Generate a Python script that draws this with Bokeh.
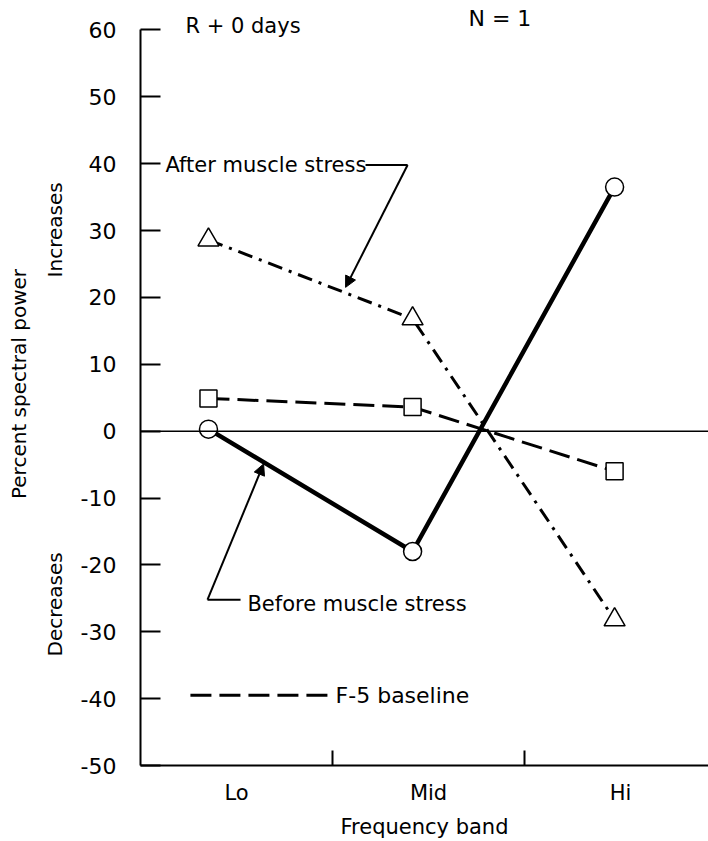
import math
from bokeh.plotting import figure
from bokeh.models import FixedTicker, Label, Arrow, NormalHead, Span, Range1d, LinearAxis
from bokeh.embed import file_html
from bokeh.resources import INLINE

# ---- data ----
bands = ["Lo", "Mid", "Hi"]
band_label_x = [0.5, 1.5, 2.5]
band_edges = [1, 2]
point_x = [0.354, 1.417, 2.469]
before_stress = [0.3, -18.0, 36.5]
after_stress = [28.6, 16.8, -28.2]
f5_baseline = [4.9, 3.6, -6.0]
y_ticks = [-50, -40, -30, -20, -10, 0, 10, 20, 30, 40, 50, 60]
y_tick_labels = [str(t) for t in y_ticks]
side_label_y = [-25.9, 30.1]
side_labels = ["Decreases", "Increases"]

# annotation anchors (data units)
after_leader_x = [1.172, 1.391]
after_leader_y = [39.8, 39.8]
after_arrow_end = (1.068, 21.5)
before_leader_x = [0.521, 0.349]
before_leader_y = [-25.2, -25.2]
before_arrow_end = (0.641, -4.9)
legend_line_x = [0.26, 0.975]
legend_line_y = [-39.5, -39.5]

FONT = "DejaVu Sans"
FS = "21px"

p = figure(width=708, height=841, output_backend="svg", toolbar_location=None,
           x_range=Range1d(0, 2.958), y_range=Range1d(-50, 64.1),
           min_border_left=140, min_border_right=0, min_border_top=2,
           min_border_bottom=73)
p.outline_line_color = None
p.grid.visible = False

# x axis
xa = p.xaxis[0]
xa.ticker = FixedTicker(ticks=band_label_x, minor_ticks=band_edges)
xa.major_label_overrides = {x: b for x, b in zip(band_label_x, bands)}
xa.major_tick_in = 0
xa.major_tick_out = 0
xa.minor_tick_in = 15
xa.minor_tick_out = 0
xa.minor_tick_line_width = 2
xa.minor_tick_line_color = "black"
xa.axis_line_width = 2
xa.axis_line_color = "black"
xa.major_label_standoff = 15
xa.major_label_text_font = FONT
xa.major_label_text_font_size = FS
xa.major_label_text_color = "black"
xa.axis_label = "Frequency band"
xa.axis_label_text_font = FONT
xa.axis_label_text_font_size = FS
xa.axis_label_text_font_style = "normal"
xa.axis_label_text_color = "black"
xa.axis_label_standoff = 7

# y axis (numbers)
ya = p.yaxis[0]
ya.bounds = (y_ticks[0], y_ticks[-1])
ya.ticker = FixedTicker(ticks=y_ticks)
ya.major_label_overrides = {t: l for t, l in zip(y_ticks, y_tick_labels)}
ya.major_tick_in = 20
ya.major_tick_out = 0
ya.major_tick_line_width = 2
ya.major_tick_line_color = "black"
ya.minor_tick_in = 0
ya.minor_tick_out = 0
ya.axis_line_width = 2
ya.axis_line_color = "black"
ya.major_label_standoff = 24
ya.major_label_text_font = FONT
ya.major_label_text_font_size = "22px"
ya.major_label_text_color = "black"

# outer left axis: Increases / Decreases + axis title
ya2 = LinearAxis(ticker=FixedTicker(ticks=side_label_y),
                 major_label_overrides={t: l for t, l in zip(side_label_y, side_labels)},
                 major_label_orientation="parallel",
                 axis_line_color=None, major_tick_line_color=None, minor_tick_line_color=None,
                 major_tick_in=0, major_tick_out=0, minor_tick_in=0, minor_tick_out=0,
                 major_label_standoff=10,
                 major_label_text_font=FONT, major_label_text_font_size="20px",
                 major_label_text_color="black",
                 axis_label="Percent spectral power", axis_label_text_font=FONT,
                 axis_label_text_font_size="20px", axis_label_text_font_style="normal",
                 axis_label_text_color="black", axis_label_standoff=10)
p.add_layout(ya2, "left")

# zero line
p.add_layout(Span(location=0, dimension="width", line_color="black", line_width=1.5))

# series lines
p.line(point_x, before_stress, line_color="black", line_width=4.5)
p.line(point_x, after_stress, line_color="black", line_width=3, line_dash="15 7 3 7")
p.line(point_x, f5_baseline, line_color="black", line_width=3, line_dash="21 8")

# markers
p.scatter(point_x, before_stress, marker="circle", size=18, fill_color="white",
          line_color="black", line_width=1.5)
p.scatter(point_x, after_stress, marker="triangle", size=21, fill_color="white",
          line_color="black", line_width=1.5)
p.scatter(point_x, f5_baseline, marker="square", size=17, fill_color="white",
          line_color="black", line_width=1.5)

# leaders and arrows
p.line(after_leader_x, after_leader_y, line_color="black", line_width=2)
p.add_layout(Arrow(end=NormalHead(size=11, fill_color="black", line_color="black", line_width=1),
                   x_start=after_leader_x[1], y_start=after_leader_y[1],
                   x_end=after_arrow_end[0], y_end=after_arrow_end[1],
                   line_color="black", line_width=2))
p.line(before_leader_x, before_leader_y, line_color="black", line_width=2)
p.add_layout(Arrow(end=NormalHead(size=11, fill_color="black", line_color="black", line_width=1),
                   x_start=before_leader_x[1], y_start=before_leader_y[1],
                   x_end=before_arrow_end[0], y_end=before_arrow_end[1],
                   line_color="black", line_width=2))
p.line(legend_line_x, legend_line_y, line_color="black", line_width=3, line_dash="21 8")

def lab(x, y, text, size=FS):
    p.add_layout(Label(x=x, y=y, text=text, text_align="left",
                       text_baseline="middle", text_font=FONT, text_font_size=size,
                       text_color="black"))

lab(0.13, 39.8, "After muscle stress")
lab(0.557, -25.8, "Before muscle stress")
lab(1.016, -39.5, "F-5 baseline", size="22px")
lab(0.234, 60.6, "R + 0 days")
lab(1.708, 61.7, "N = 1", size="22px")

open("out.html", "w").write(file_html(p, INLINE))
